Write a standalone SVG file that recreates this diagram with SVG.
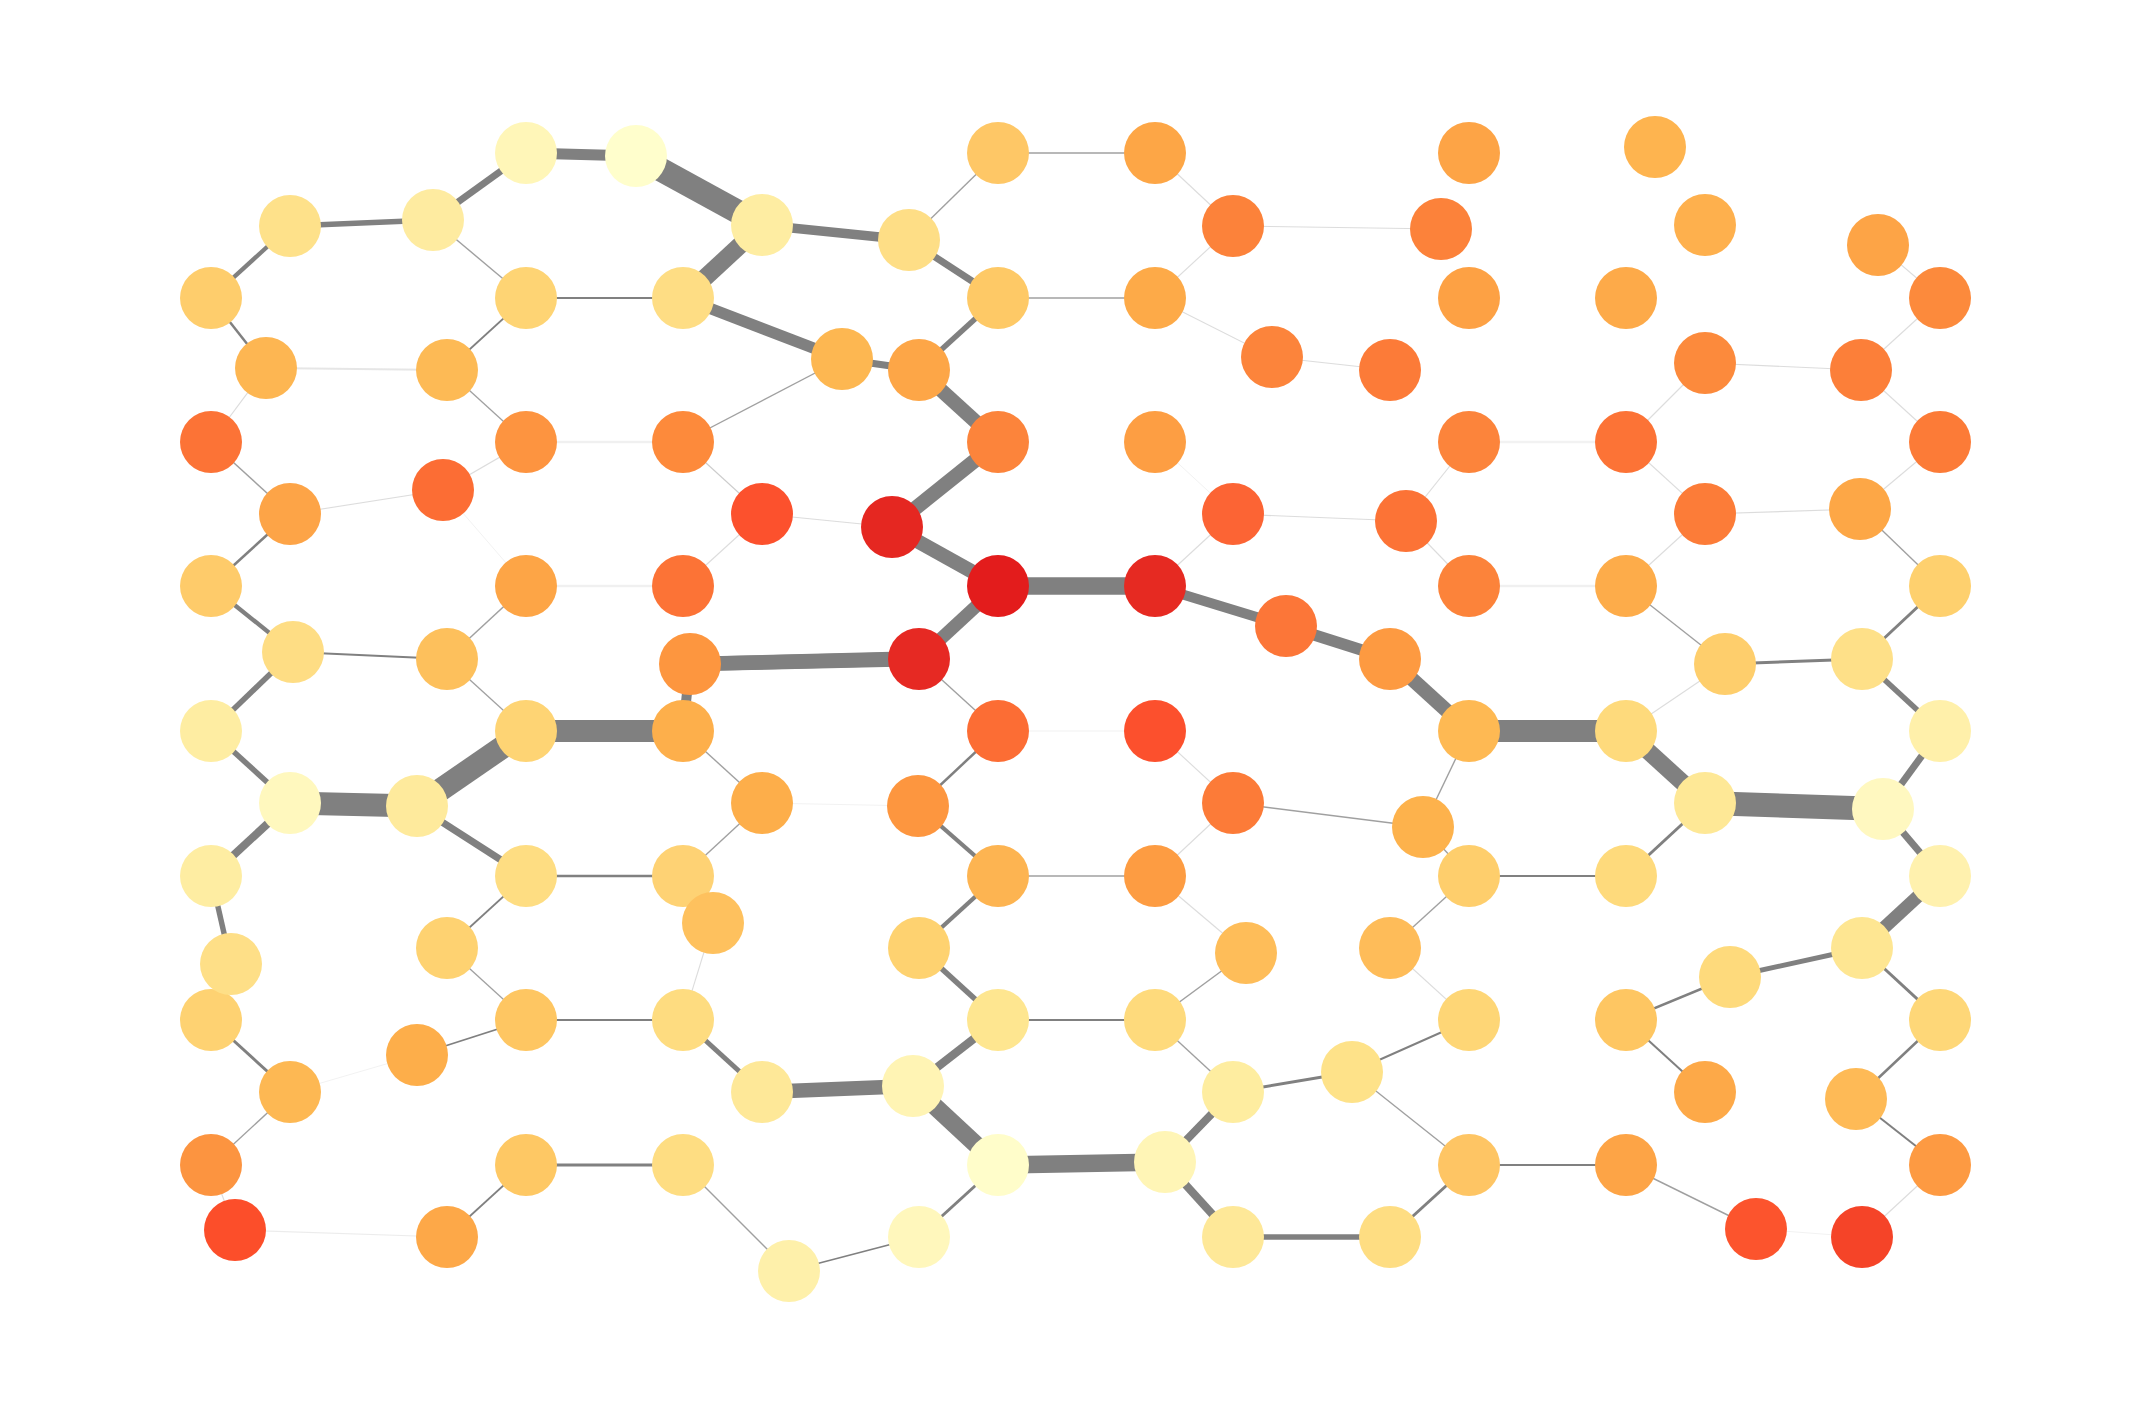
<svg xmlns="http://www.w3.org/2000/svg" width="2152" height="1418" viewBox="0 0 2152 1418">
<style>
.bg{fill:#ffffff}
#edges line{stroke:#808080;stroke-linecap:butt}
.vf{stroke-width:1;stroke-opacity:.1}
.f{stroke-width:1.1;stroke-opacity:.28}
.t{stroke-width:1.4;stroke-opacity:.75}
.n circle{stroke:none}
</style>
<rect class="bg" x="0" y="0" width="2152" height="1418"/>
<g id="edges">
<line x1="526" y1="153" x2="636" y2="156" stroke-width="11"/>
<line x1="636" y1="156" x2="762" y2="225" stroke-width="24"/>
<line x1="433" y1="220" x2="526" y2="153" stroke-width="7"/>
<line x1="290" y1="226" x2="433" y2="220" stroke-width="5.5"/>
<line x1="211" y1="298" x2="290" y2="226" stroke-width="4.3"/>
<line x1="433" y1="220" x2="526" y2="298" class="t"/>
<line x1="526" y1="298" x2="683" y2="298" stroke-width="2.2"/>
<line x1="683" y1="298" x2="762" y2="225" stroke-width="17.5"/>
<line x1="683" y1="298" x2="842" y2="359" stroke-width="11.5"/>
<line x1="211" y1="298" x2="266" y2="368" stroke-width="2.5"/>
<line x1="266" y1="368" x2="447" y2="370" stroke-width="1.8" stroke-opacity=".2"/>
<line x1="447" y1="370" x2="526" y2="298" stroke-width="1.8"/>
<line x1="266" y1="368" x2="211" y2="442" class="f"/>
<line x1="447" y1="370" x2="526" y2="442" class="t"/>
<line x1="526" y1="442" x2="683" y2="442" stroke-width="2.4" stroke-opacity=".12"/>
<line x1="683" y1="442" x2="842" y2="359" class="t"/>
<line x1="211" y1="442" x2="290" y2="514" class="t"/>
<line x1="290" y1="514" x2="443" y2="490" class="f"/>
<line x1="443" y1="490" x2="526" y2="442" class="f"/>
<line x1="683" y1="442" x2="762" y2="514" stroke-width="1.2" stroke-opacity=".4"/>
<line x1="443" y1="490" x2="526" y2="586" class="vf"/>
<line x1="290" y1="514" x2="211" y2="586" stroke-width="2.5"/>
<line x1="526" y1="586" x2="683" y2="586" stroke-width="2.4" stroke-opacity=".12"/>
<line x1="683" y1="586" x2="762" y2="514" class="f"/>
<line x1="211" y1="586" x2="293" y2="652" stroke-width="4.3"/>
<line x1="293" y1="652" x2="447" y2="659" stroke-width="1.8"/>
<line x1="447" y1="659" x2="526" y2="586" class="t"/>
<line x1="447" y1="659" x2="526" y2="731" class="t"/>
<line x1="690" y1="664" x2="892" y2="659" stroke-width="14.5"/>
<line x1="690" y1="664" x2="683" y2="731" stroke-width="10"/>
<line x1="293" y1="652" x2="211" y2="731" stroke-width="5.5"/>
<line x1="762" y1="225" x2="909" y2="240" stroke-width="9.5"/>
<line x1="909" y1="240" x2="998" y2="153" class="t"/>
<line x1="998" y1="153" x2="1155" y2="153" class="t"/>
<line x1="909" y1="240" x2="998" y2="298" stroke-width="7"/>
<line x1="1155" y1="153" x2="1233" y2="226" class="f"/>
<line x1="1233" y1="226" x2="1155" y2="298" class="f"/>
<line x1="1233" y1="226" x2="1441" y2="229" class="f"/>
<line x1="998" y1="298" x2="1155" y2="298" class="t"/>
<line x1="1155" y1="298" x2="1272" y2="357" class="f"/>
<line x1="1272" y1="357" x2="1390" y2="370" class="f"/>
<line x1="842" y1="359" x2="919" y2="370" stroke-width="7"/>
<line x1="919" y1="370" x2="998" y2="298" stroke-width="5.5"/>
<line x1="919" y1="370" x2="998" y2="442" stroke-width="14.5"/>
<line x1="998" y1="442" x2="892" y2="527" stroke-width="14.5"/>
<line x1="762" y1="514" x2="892" y2="527" class="f"/>
<line x1="892" y1="527" x2="998" y2="586" stroke-width="14.5"/>
<line x1="998" y1="586" x2="1155" y2="586" stroke-width="17.5"/>
<line x1="1155" y1="586" x2="1286" y2="626" stroke-width="10"/>
<line x1="1286" y1="626" x2="1390" y2="659" stroke-width="11.5"/>
<line x1="1155" y1="442" x2="1233" y2="514" class="vf"/>
<line x1="1233" y1="514" x2="1155" y2="586" class="f"/>
<line x1="1233" y1="514" x2="1406" y2="521" class="f"/>
<line x1="998" y1="586" x2="919" y2="659" stroke-width="13"/>
<line x1="919" y1="659" x2="690" y2="664" stroke-width="14.5"/>
<line x1="919" y1="659" x2="998" y2="731" class="t"/>
<line x1="1878" y1="245" x2="1940" y2="298" class="f"/>
<line x1="1705" y1="363" x2="1861" y2="370" class="f"/>
<line x1="1861" y1="370" x2="1940" y2="298" class="f"/>
<line x1="1705" y1="363" x2="1626" y2="442" class="f"/>
<line x1="1469" y1="442" x2="1626" y2="442" stroke-width="2.4" stroke-opacity=".1"/>
<line x1="1469" y1="442" x2="1406" y2="521" class="f"/>
<line x1="1626" y1="442" x2="1705" y2="514" class="f"/>
<line x1="1705" y1="514" x2="1860" y2="509" class="f"/>
<line x1="1861" y1="370" x2="1940" y2="442" class="f"/>
<line x1="1940" y1="442" x2="1860" y2="509" class="f"/>
<line x1="1406" y1="521" x2="1469" y2="586" class="f"/>
<line x1="1469" y1="586" x2="1626" y2="586" stroke-width="2.4" stroke-opacity=".12"/>
<line x1="1626" y1="586" x2="1705" y2="514" class="f"/>
<line x1="1860" y1="509" x2="1940" y2="586" class="t"/>
<line x1="1626" y1="586" x2="1725" y2="664" class="t"/>
<line x1="1725" y1="664" x2="1862" y2="659" stroke-width="3"/>
<line x1="1940" y1="586" x2="1862" y2="659" stroke-width="3"/>
<line x1="1390" y1="659" x2="1469" y2="731" stroke-width="14.5"/>
<line x1="1725" y1="664" x2="1626" y2="731" class="f"/>
<line x1="1862" y1="659" x2="1940" y2="731" stroke-width="5.5"/>
<line x1="211" y1="731" x2="290" y2="803" stroke-width="5.5"/>
<line x1="290" y1="803" x2="417" y2="806" stroke-width="23"/>
<line x1="417" y1="806" x2="526" y2="731" stroke-width="23"/>
<line x1="526" y1="731" x2="683" y2="731" stroke-width="22"/>
<line x1="683" y1="731" x2="762" y2="803" class="t"/>
<line x1="290" y1="803" x2="211" y2="876" stroke-width="8"/>
<line x1="417" y1="806" x2="526" y2="876" stroke-width="7"/>
<line x1="526" y1="876" x2="683" y2="876" stroke-width="2.5"/>
<line x1="683" y1="876" x2="762" y2="803" class="t"/>
<line x1="211" y1="876" x2="231" y2="964" stroke-width="5.5"/>
<line x1="526" y1="876" x2="447" y2="948" stroke-width="1.8"/>
<line x1="713" y1="923" x2="683" y2="1020" class="f"/>
<line x1="447" y1="948" x2="526" y2="1020" class="t"/>
<line x1="211" y1="1020" x2="290" y2="1092" stroke-width="3"/>
<line x1="526" y1="1020" x2="683" y2="1020" stroke-width="2.2"/>
<line x1="526" y1="1020" x2="417" y2="1055" stroke-width="1.8"/>
<line x1="417" y1="1055" x2="290" y2="1092" class="vf"/>
<line x1="683" y1="1020" x2="762" y2="1092" stroke-width="5"/>
<line x1="290" y1="1092" x2="211" y2="1165" class="t"/>
<line x1="211" y1="1165" x2="235" y2="1230" class="f"/>
<line x1="235" y1="1230" x2="447" y2="1237" stroke-width="1.2" stroke-opacity=".15"/>
<line x1="447" y1="1237" x2="526" y2="1165" stroke-width="1.8"/>
<line x1="526" y1="1165" x2="683" y2="1165" stroke-width="3"/>
<line x1="683" y1="1165" x2="789" y2="1271" class="t"/>
<line x1="762" y1="803" x2="918" y2="806" class="vf"/>
<line x1="998" y1="731" x2="918" y2="806" stroke-width="2.5"/>
<line x1="998" y1="731" x2="1155" y2="731" class="vf"/>
<line x1="1155" y1="731" x2="1233" y2="803" class="f"/>
<line x1="918" y1="806" x2="998" y2="876" stroke-width="4.3"/>
<line x1="1233" y1="803" x2="1155" y2="876" class="f"/>
<line x1="998" y1="876" x2="1155" y2="876" class="t"/>
<line x1="1233" y1="803" x2="1423" y2="827" class="t"/>
<line x1="998" y1="876" x2="919" y2="948" stroke-width="4.3"/>
<line x1="1155" y1="876" x2="1246" y2="953" class="f"/>
<line x1="1246" y1="953" x2="1155" y2="1020" class="t"/>
<line x1="919" y1="948" x2="998" y2="1020" stroke-width="5.5"/>
<line x1="998" y1="1020" x2="1155" y2="1020" stroke-width="1.8"/>
<line x1="998" y1="1020" x2="913" y2="1086" stroke-width="8.5"/>
<line x1="762" y1="1092" x2="913" y2="1086" stroke-width="14.5"/>
<line x1="913" y1="1086" x2="998" y2="1165" stroke-width="17.5"/>
<line x1="1155" y1="1020" x2="1233" y2="1092" class="t"/>
<line x1="1233" y1="1092" x2="1352" y2="1072" stroke-width="3"/>
<line x1="1233" y1="1092" x2="1165" y2="1162" stroke-width="8"/>
<line x1="998" y1="1165" x2="1165" y2="1162" stroke-width="17.5"/>
<line x1="998" y1="1165" x2="919" y2="1237" stroke-width="3"/>
<line x1="919" y1="1237" x2="789" y2="1271" stroke-width="1.8"/>
<line x1="1165" y1="1162" x2="1233" y2="1237" stroke-width="8"/>
<line x1="1233" y1="1237" x2="1390" y2="1237" stroke-width="5.5"/>
<line x1="1352" y1="1072" x2="1469" y2="1020" stroke-width="2"/>
<line x1="1352" y1="1072" x2="1469" y2="1165" class="t"/>
<line x1="1469" y1="731" x2="1626" y2="731" stroke-width="22"/>
<line x1="1469" y1="731" x2="1423" y2="827" class="t"/>
<line x1="1626" y1="731" x2="1705" y2="803" stroke-width="17"/>
<line x1="1705" y1="803" x2="1883" y2="809" stroke-width="24"/>
<line x1="1883" y1="809" x2="1940" y2="731" stroke-width="7"/>
<line x1="1883" y1="809" x2="1940" y2="876" stroke-width="7"/>
<line x1="1940" y1="876" x2="1862" y2="948" stroke-width="13"/>
<line x1="1705" y1="803" x2="1626" y2="876" stroke-width="3"/>
<line x1="1423" y1="827" x2="1469" y2="876" class="t"/>
<line x1="1469" y1="876" x2="1626" y2="876" stroke-width="2.2"/>
<line x1="1469" y1="876" x2="1390" y2="948" class="t"/>
<line x1="1390" y1="948" x2="1469" y2="1020" class="f"/>
<line x1="1730" y1="977" x2="1862" y2="948" stroke-width="5"/>
<line x1="1730" y1="977" x2="1626" y2="1020" stroke-width="2.5"/>
<line x1="1626" y1="1020" x2="1705" y2="1092" stroke-width="2"/>
<line x1="1862" y1="948" x2="1940" y2="1020" stroke-width="3"/>
<line x1="1940" y1="1020" x2="1856" y2="1099" stroke-width="2.5"/>
<line x1="1856" y1="1099" x2="1940" y2="1165" stroke-width="2"/>
<line x1="1940" y1="1165" x2="1862" y2="1237" class="f"/>
<line x1="1469" y1="1165" x2="1626" y2="1165" stroke-width="2.2"/>
<line x1="1626" y1="1165" x2="1756" y2="1229" class="t"/>
<line x1="1756" y1="1229" x2="1862" y2="1237" class="vf"/>
<line x1="1469" y1="1165" x2="1390" y2="1237" stroke-width="3"/>
</g>
<g class="n">
<g id="A1"><circle cx="526" cy="153" r="31" fill="#FFF6B8"/></g>
<g id="A2"><circle cx="636" cy="156" r="31" fill="#FFFECC"/></g>
<g id="A3"><circle cx="762" cy="225" r="31" fill="#FEEDA2"/></g>
<g id="B1"><circle cx="290" cy="226" r="31" fill="#FEE18A"/></g>
<g id="B2"><circle cx="433" cy="220" r="31" fill="#FEEBA0"/></g>
<g id="C1"><circle cx="211" cy="298" r="31" fill="#FECD6C"/></g>
<g id="C2"><circle cx="526" cy="298" r="31" fill="#FED474"/></g>
<g id="C3"><circle cx="683" cy="298" r="31" fill="#FEDD84"/></g>
<g id="D1"><circle cx="266" cy="368" r="31" fill="#FDB652"/></g>
<g id="D2"><circle cx="447" cy="370" r="31" fill="#FDBA55"/></g>
<g id="E1"><circle cx="211" cy="442" r="31" fill="#FC7336"/></g>
<g id="E2"><circle cx="526" cy="442" r="31" fill="#FD9440"/></g>
<g id="E3"><circle cx="683" cy="442" r="31" fill="#FD8A3B"/></g>
<g id="F1"><circle cx="290" cy="514" r="31" fill="#FDA447"/></g>
<g id="F2"><circle cx="443" cy="490" r="31" fill="#FC6D34"/></g>
<g id="F3"><circle cx="762" cy="514" r="31" fill="#FC512D"/></g>
<g id="G1"><circle cx="211" cy="586" r="31" fill="#FECB6A"/></g>
<g id="G2"><circle cx="526" cy="586" r="31" fill="#FDA546"/></g>
<g id="G3"><circle cx="683" cy="586" r="31" fill="#FC7336"/></g>
<g id="H1"><circle cx="293" cy="652" r="31" fill="#FEDD84"/></g>
<g id="H2"><circle cx="447" cy="659" r="31" fill="#FDC05C"/></g>
<g id="Y3"><circle cx="683" cy="731" r="31" fill="#FDAF4B"/></g>
<g id="H3"><circle cx="690" cy="664" r="31" fill="#FD963F"/></g>
<g id="I1"><circle cx="998" cy="153" r="31" fill="#FEC766"/></g>
<g id="I2"><circle cx="1155" cy="153" r="31" fill="#FDA646"/></g>
<g id="A4"><circle cx="909" cy="240" r="31" fill="#FEDE86"/></g>
<g id="J1"><circle cx="1233" cy="226" r="31" fill="#FC823A"/></g>
<g id="K1"><circle cx="998" cy="298" r="31" fill="#FEC966"/></g>
<g id="K2"><circle cx="1155" cy="298" r="31" fill="#FDAA48"/></g>
<g id="L1"><circle cx="842" cy="359" r="31" fill="#FDB751"/></g>
<g id="L2"><circle cx="919" cy="370" r="31" fill="#FDA647"/></g>
<g id="L3"><circle cx="1272" cy="357" r="31" fill="#FC843B"/></g>
<g id="L4"><circle cx="1390" cy="370" r="31" fill="#FC7B38"/></g>
<g id="M1"><circle cx="998" cy="442" r="31" fill="#FC843B"/></g>
<g id="M2"><circle cx="1155" cy="442" r="31" fill="#FD9E43"/></g>
<g id="N1"><circle cx="892" cy="527" r="31" fill="#E52721"/></g>
<g id="N2"><circle cx="1233" cy="514" r="31" fill="#FC6434"/></g>
<g id="O1"><circle cx="998" cy="586" r="31" fill="#E31C1C"/></g>
<g id="O2"><circle cx="1155" cy="586" r="31" fill="#E62A22"/></g>
<g id="P1"><circle cx="1286" cy="626" r="31" fill="#FC7638"/></g>
<g id="P2"><circle cx="1390" cy="659" r="31" fill="#FD9A41"/></g>
<g id="Q1"><circle cx="919" cy="659" r="31" fill="#E62923"/></g>
<g id="R1"><circle cx="1469" cy="153" r="31" fill="#FDA446"/></g>
<g id="R2"><circle cx="1655" cy="147" r="31" fill="#FEB44F"/></g>
<g id="R3"><circle cx="1441" cy="229" r="31" fill="#FC823A"/></g>
<g id="R4"><circle cx="1705" cy="225" r="31" fill="#FEB04D"/></g>
<g id="R5"><circle cx="1878" cy="245" r="31" fill="#FDA446"/></g>
<g id="S1"><circle cx="1469" cy="298" r="31" fill="#FDA144"/></g>
<g id="S2"><circle cx="1626" cy="298" r="31" fill="#FDAA49"/></g>
<g id="S3"><circle cx="1940" cy="298" r="31" fill="#FC8A3C"/></g>
<g id="T1"><circle cx="1705" cy="363" r="31" fill="#FC8A3C"/></g>
<g id="T2"><circle cx="1861" cy="370" r="31" fill="#FC7F39"/></g>
<g id="U1"><circle cx="1469" cy="442" r="31" fill="#FC843B"/></g>
<g id="U2"><circle cx="1626" cy="442" r="31" fill="#FC7336"/></g>
<g id="U3"><circle cx="1940" cy="442" r="31" fill="#FC7B37"/></g>
<g id="V0"><circle cx="1406" cy="521" r="31" fill="#FC7336"/></g>
<g id="V1"><circle cx="1705" cy="514" r="31" fill="#FC7C38"/></g>
<g id="V2"><circle cx="1860" cy="509" r="31" fill="#FDA746"/></g>
<g id="W1"><circle cx="1469" cy="586" r="31" fill="#FC833A"/></g>
<g id="W2"><circle cx="1626" cy="586" r="31" fill="#FDAC4A"/></g>
<g id="W3"><circle cx="1940" cy="586" r="31" fill="#FED06E"/></g>
<g id="X1"><circle cx="1725" cy="664" r="31" fill="#FECE6C"/></g>
<g id="X2"><circle cx="1862" cy="659" r="31" fill="#FEE088"/></g>
<g id="Y1"><circle cx="211" cy="731" r="31" fill="#FEEDA2"/></g>
<g id="Y2"><circle cx="526" cy="731" r="31" fill="#FED474"/></g>
<g id="Z1"><circle cx="290" cy="803" r="31" fill="#FFF8BE"/></g>
<g id="Z2"><circle cx="417" cy="806" r="31" fill="#FEEA9C"/></g>
<g id="Z3"><circle cx="762" cy="803" r="31" fill="#FDAE4A"/></g>
<g id="a1"><circle cx="211" cy="876" r="31" fill="#FEEDA2"/></g>
<g id="a2"><circle cx="526" cy="876" r="31" fill="#FEDD82"/></g>
<g id="a3"><circle cx="683" cy="876" r="31" fill="#FED274"/></g>
<g id="a4"><circle cx="713" cy="923" r="31" fill="#FEC15E"/></g>
<g id="c1"><circle cx="211" cy="1020" r="31" fill="#FED272"/></g>
<g id="b1"><circle cx="231" cy="964" r="31" fill="#FEDF87"/></g>
<g id="b2"><circle cx="447" cy="948" r="31" fill="#FED271"/></g>
<g id="c2"><circle cx="526" cy="1020" r="31" fill="#FEC662"/></g>
<g id="c3"><circle cx="683" cy="1020" r="31" fill="#FEDC80"/></g>
<g id="d0"><circle cx="417" cy="1055" r="31" fill="#FDAE4A"/></g>
<g id="d1"><circle cx="290" cy="1092" r="31" fill="#FDB853"/></g>
<g id="d2"><circle cx="762" cy="1092" r="31" fill="#FEE898"/></g>
<g id="e1"><circle cx="211" cy="1165" r="31" fill="#FC9440"/></g>
<g id="e2"><circle cx="526" cy="1165" r="31" fill="#FEC864"/></g>
<g id="e3"><circle cx="683" cy="1165" r="31" fill="#FEDD82"/></g>
<g id="f1"><circle cx="235" cy="1230" r="31" fill="#FC4E2A"/></g>
<g id="f2"><circle cx="447" cy="1237" r="31" fill="#FDA848"/></g>
<g id="g1"><circle cx="789" cy="1271" r="31" fill="#FEF0AA"/></g>
<g id="h1"><circle cx="998" cy="731" r="31" fill="#FC6D34"/></g>
<g id="h2"><circle cx="1155" cy="731" r="31" fill="#FC502D"/></g>
<g id="i1"><circle cx="918" cy="806" r="31" fill="#FD963F"/></g>
<g id="i2"><circle cx="1233" cy="803" r="31" fill="#FC7B38"/></g>
<g id="j1"><circle cx="998" cy="876" r="31" fill="#FDB451"/></g>
<g id="j2"><circle cx="1155" cy="876" r="31" fill="#FD9C42"/></g>
<g id="k1"><circle cx="919" cy="948" r="31" fill="#FED270"/></g>
<g id="k2"><circle cx="1246" cy="953" r="31" fill="#FEBD59"/></g>
<g id="l1"><circle cx="998" cy="1020" r="31" fill="#FEE690"/></g>
<g id="l2"><circle cx="1155" cy="1020" r="31" fill="#FEDA7C"/></g>
<g id="m1"><circle cx="913" cy="1086" r="31" fill="#FFF4B4"/></g>
<g id="m2"><circle cx="1233" cy="1092" r="31" fill="#FEEDA0"/></g>
<g id="m3"><circle cx="1352" cy="1072" r="31" fill="#FEE289"/></g>
<g id="n1"><circle cx="998" cy="1165" r="31" fill="#FFFDCA"/></g>
<g id="n2"><circle cx="1165" cy="1162" r="31" fill="#FFF5B6"/></g>
<g id="o2"><circle cx="919" cy="1237" r="31" fill="#FFF7BC"/></g>
<g id="o3"><circle cx="1233" cy="1237" r="31" fill="#FEE898"/></g>
<g id="o4"><circle cx="1390" cy="1237" r="31" fill="#FEDD82"/></g>
<g id="p1"><circle cx="1469" cy="731" r="31" fill="#FEB953"/></g>
<g id="p2"><circle cx="1626" cy="731" r="31" fill="#FEDA7C"/></g>
<g id="p3"><circle cx="1940" cy="731" r="31" fill="#FFF0AA"/></g>
<g id="q0"><circle cx="1423" cy="827" r="31" fill="#FDB24C"/></g>
<g id="q1"><circle cx="1705" cy="803" r="31" fill="#FEE896"/></g>
<g id="q2"><circle cx="1883" cy="809" r="31" fill="#FFF8C0"/></g>
<g id="r1"><circle cx="1469" cy="876" r="31" fill="#FECE6C"/></g>
<g id="r2"><circle cx="1626" cy="876" r="31" fill="#FEDA7C"/></g>
<g id="r3"><circle cx="1940" cy="876" r="31" fill="#FFF1AE"/></g>
<g id="s0"><circle cx="1390" cy="948" r="31" fill="#FEBC59"/></g>
<g id="s1"><circle cx="1730" cy="977" r="31" fill="#FEDA7C"/></g>
<g id="s2"><circle cx="1862" cy="948" r="31" fill="#FEE692"/></g>
<g id="t1"><circle cx="1469" cy="1020" r="31" fill="#FED676"/></g>
<g id="t2"><circle cx="1626" cy="1020" r="31" fill="#FEC662"/></g>
<g id="t3"><circle cx="1940" cy="1020" r="31" fill="#FED778"/></g>
<g id="u1"><circle cx="1705" cy="1092" r="31" fill="#FDA948"/></g>
<g id="u2"><circle cx="1856" cy="1099" r="31" fill="#FEBA56"/></g>
<g id="v1"><circle cx="1469" cy="1165" r="31" fill="#FEC564"/></g>
<g id="v2"><circle cx="1626" cy="1165" r="31" fill="#FDA446"/></g>
<g id="v3"><circle cx="1940" cy="1165" r="31" fill="#FD9A42"/></g>
<g id="w1"><circle cx="1756" cy="1229" r="31" fill="#FC542D"/></g>
<g id="w2"><circle cx="1862" cy="1237" r="31" fill="#F54428"/></g>
</g>
</svg>
